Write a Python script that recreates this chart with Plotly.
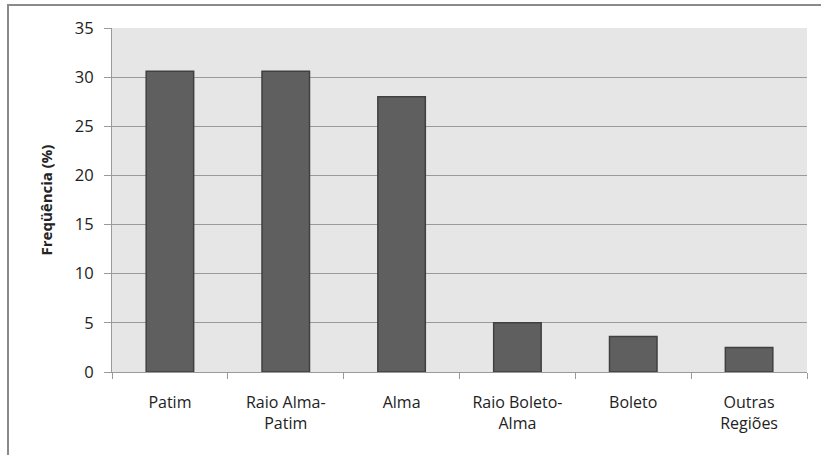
import plotly.graph_objects as go

categories = ["Patim", "Raio Alma-<br>Patim", "Alma", "Raio Boleto-<br>Alma", "Boleto", "Outras<br>Regiões"]
values = [30.6, 30.6, 28.0, 5.0, 3.6, 2.5]
y_ticks = [0, 5, 10, 15, 20, 25, 30, 35]

W, H = 821, 455
ml, mr, mt, mb = 112, 14, 28, 83
pw, ph = W - ml - mr, H - mt - mb

fig = go.Figure(go.Bar(
    x=categories, y=values,
    marker=dict(color="#5f5f5f", line=dict(color="#404040", width=1.5)),
    width=0.41,
))

fig.update_layout(
    width=W, height=H,
    margin=dict(l=ml, r=mr, t=mt, b=mb),
    paper_bgcolor="white",
    plot_bgcolor="#e6e6e6",
    showlegend=False,
    font=dict(family="Open Sans", size=16, color="#222"),
    xaxis=dict(
        type="category", tickson="boundaries",
        ticks="outside", ticklen=6, tickcolor="#9a9a9a",
        showline=True, linecolor="#9a9a9a", linewidth=1,
        showgrid=False, tickfont=dict(size=16),
        ticklabelstandoff=16,
    ),
    yaxis=dict(
        range=[0, 35], tickvals=y_ticks,
        ticks="outside", ticklen=7, tickcolor="#9a9a9a",
        showline=True, linecolor="#9a9a9a", linewidth=1,
        showgrid=True, gridcolor="#9a9a9a", gridwidth=1,
        zeroline=False, tickfont=dict(size=16.5),
        ticklabelstandoff=7,
        title=dict(text="<b>Freqüência (%)</b>", font=dict(size=15), standoff=18),
    ),
    shapes=[dict(
        type="rect", xref="paper", yref="paper",
        x0=(8 - ml) / pw, x1=(W + 10 - ml) / pw,
        y0=-(H + 10 - mt - ph) / ph, y1=(H - 5 - mb) / ph,
        line=dict(color="#8a8a8a", width=2), fillcolor="rgba(0,0,0,0)",
        layer="below",
    )],
)

fig.write_html("out.html")
